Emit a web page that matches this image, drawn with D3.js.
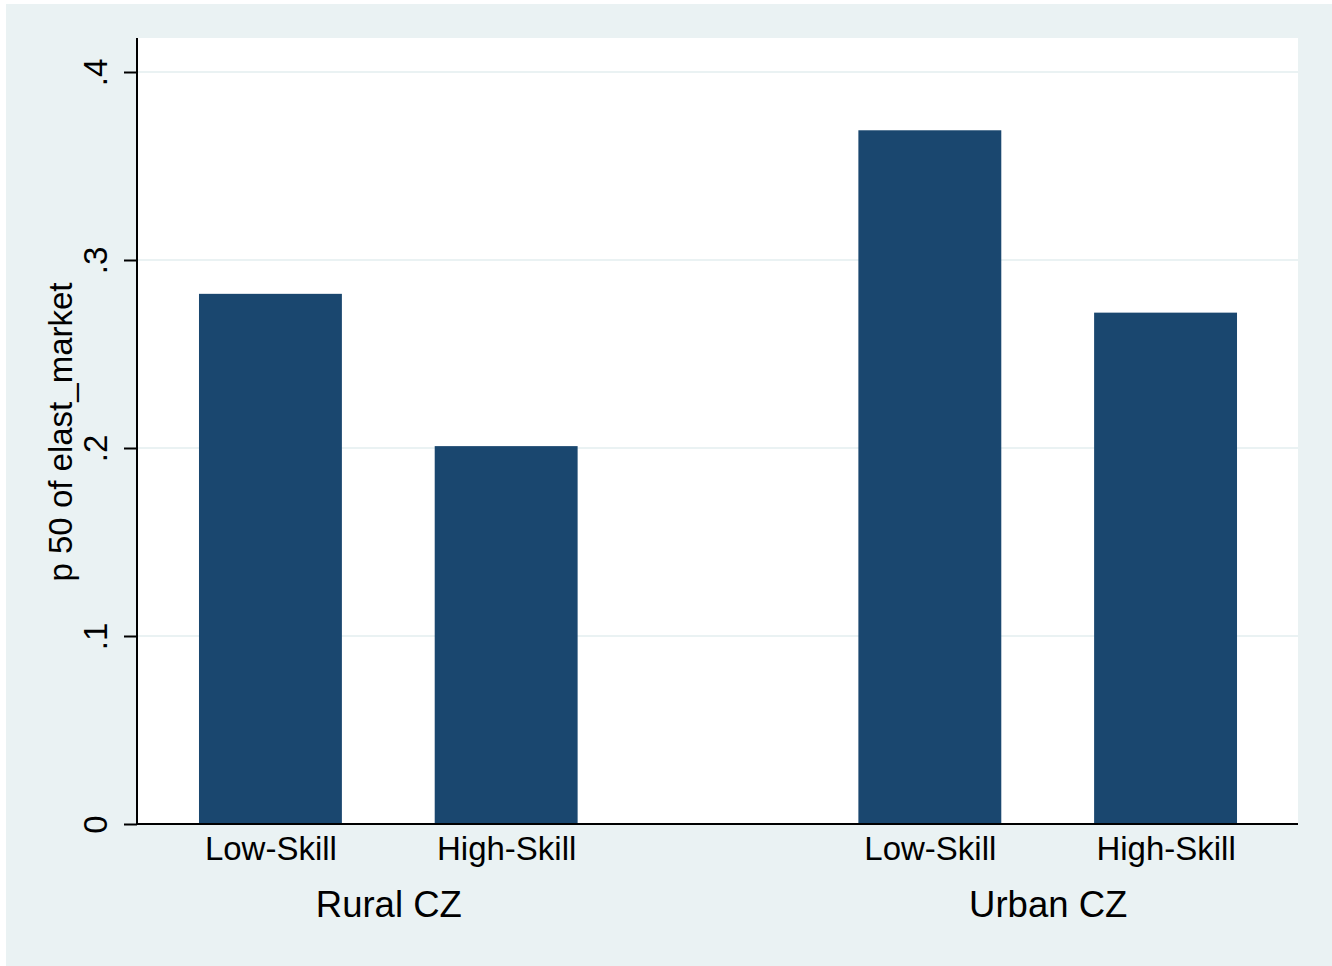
<!DOCTYPE html>
<html>
<head>
<meta charset="utf-8">
<script src="https://cdn.jsdelivr.net/npm/d3@7"></script>
<style>
  html, body { margin: 0; padding: 0; background: #ffffff; }
  svg { display: block; font-family: "Liberation Sans", Arial, sans-serif; }
</style>
</head>
<body>
<svg id="chart" width="1332" height="966"></svg>
<script>
// Median market elasticity by commuting-zone type and skill group
const groups = ["Rural CZ", "Urban CZ"];
const skills = ["Low-Skill", "High-Skill"];
const ruralValues = [0.282, 0.201];
const urbanValues = [0.369, 0.272];
const yTicks = [0, 0.1, 0.2, 0.3, 0.4];
const yTickLabels = ["0", ".1", ".2", ".3", ".4"];
const yTitle = "p 50 of elast_market";

const valuesByGroup = { "Rural CZ": ruralValues, "Urban CZ": urbanValues };
const rows = groups.flatMap(g => skills.map((s, i) => ({ group: g, skill: s, value: valuesByGroup[g][i] })));

const W = 1332, H = 966;
const plot = { left: 137, right: 1298, top: 38, bottom: 824 };
const bg = "#eaf2f3", barColor = "#1a476f";

const svg = d3.select("#chart");

// outer graph region
svg.append("rect").attr("x", 6).attr("y", 4).attr("width", W - 6).attr("height", H - 4).attr("fill", bg);
// plot region
svg.append("rect")
  .attr("x", plot.left).attr("y", plot.top)
  .attr("width", plot.right - plot.left).attr("height", plot.bottom - plot.top)
  .attr("fill", "#ffffff");

const y = d3.scaleLinear().domain([0, 0.4]).range([plot.bottom, 72]);

const x0 = d3.scaleBand().domain(groups).range([plot.left, plot.right])
  .paddingInner(0.4273).paddingOuter(0.094);
const x1 = d3.scaleBand().domain(skills).range([0, x0.bandwidth()])
  .paddingInner(0.398).paddingOuter(0);

// gridlines
svg.append("g").selectAll("line")
  .data(yTicks.filter(t => t > 0))
  .join("line")
  .attr("x1", plot.left).attr("x2", plot.right)
  .attr("y1", d => y(d)).attr("y2", d => y(d))
  .attr("stroke", bg).attr("stroke-width", 2);

// bars
svg.append("g").selectAll("rect")
  .data(rows)
  .join("rect")
  .attr("x", d => x0(d.group) + x1(d.skill))
  .attr("width", x1.bandwidth() + 1)
  .attr("y", d => y(d.value))
  .attr("height", d => y(0) - y(d.value))
  .attr("fill", barColor);

// y axis
const yAxis = d3.axisLeft(y).tickValues(yTicks)
  .tickFormat((d, i) => yTickLabels[i]).tickSize(13).tickPadding(0);
const yg = svg.append("g").attr("transform", `translate(${plot.left},0)`).call(yAxis);
yg.select(".domain").attr("d", `M0,${plot.top}V${plot.bottom}`).attr("stroke", "#000").attr("stroke-width", 2);
yg.selectAll(".tick line").attr("stroke", "#000").attr("stroke-width", 2);
yg.selectAll(".tick text")
  .attr("x", null).attr("dy", null)
  .attr("transform", "translate(-30,0) rotate(-90)")
  .attr("text-anchor", "middle")
  .attr("font-size", 33)
  .attr("font-family", "Liberation Sans, Arial, sans-serif")
  .attr("fill", "#000");

// x axis line
svg.append("line")
  .attr("x1", plot.left - 1).attr("x2", plot.right)
  .attr("y1", plot.bottom).attr("y2", plot.bottom)
  .attr("stroke", "#000").attr("stroke-width", 2);

// skill labels
svg.append("g").selectAll("text")
  .data(rows)
  .join("text")
  .attr("x", d => x0(d.group) + x1(d.skill) + x1.bandwidth() / 2 + 1)
  .attr("y", 860)
  .attr("text-anchor", "middle")
  .attr("font-size", 33)
  .attr("fill", "#000")
  .text(d => d.skill);

// group labels
svg.append("g").selectAll("text")
  .data(groups)
  .join("text")
  .attr("x", d => x0(d) + x0.bandwidth() / 2 + 1)
  .attr("y", 917)
  .attr("text-anchor", "middle")
  .attr("font-size", 36.5)
  .attr("fill", "#000")
  .text(d => d);

// y axis title
svg.append("text")
  .attr("transform", `translate(72,${(plot.top + plot.bottom) / 2 + 1}) rotate(-90)`)
  .attr("text-anchor", "middle")
  .attr("font-size", 33)
  .attr("fill", "#000")
  .text(yTitle);
</script>
</body>
</html>
